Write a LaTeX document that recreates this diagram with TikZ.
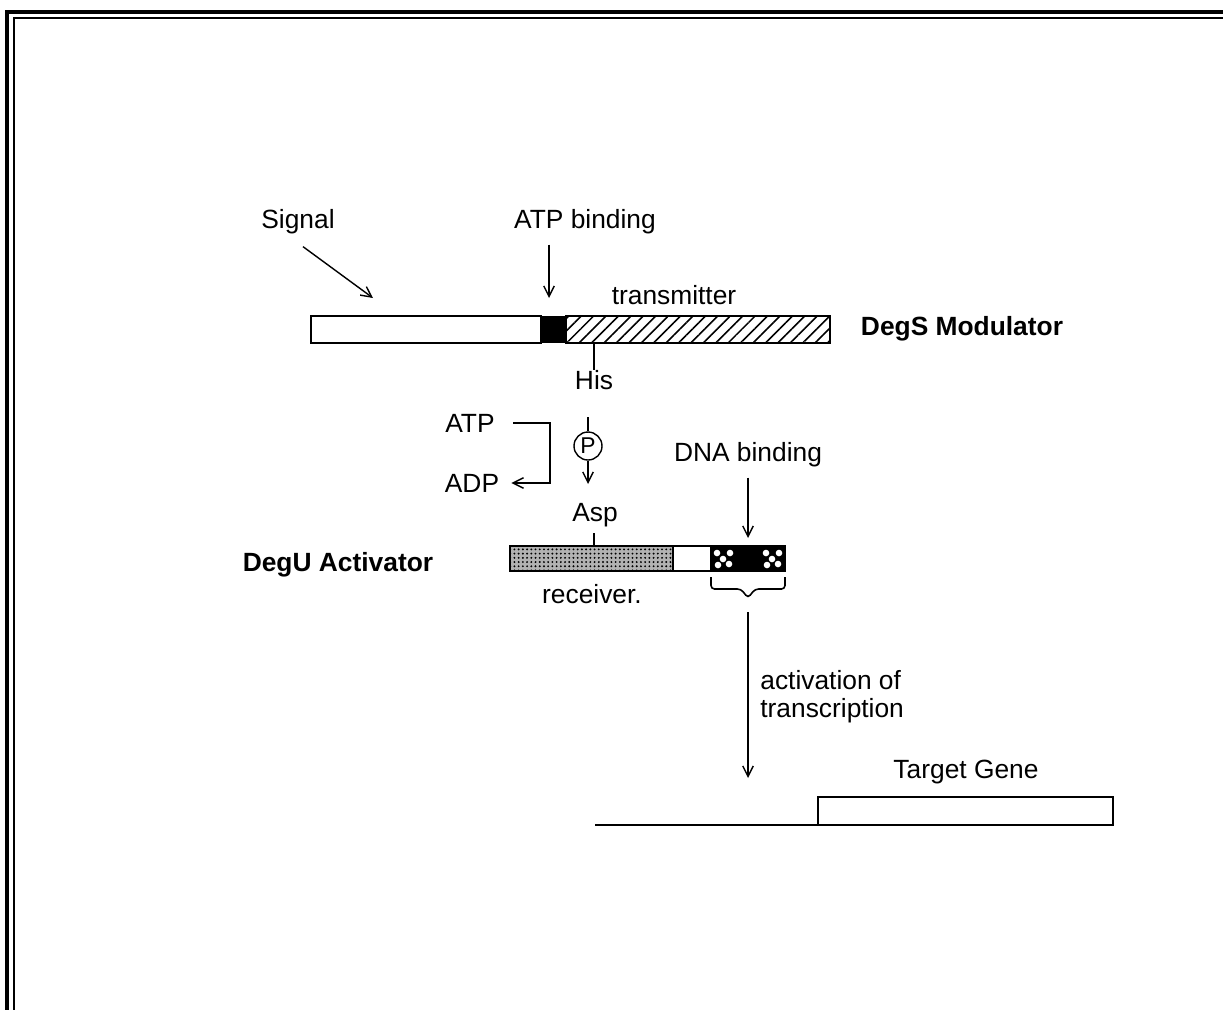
\documentclass[tikz,border=0pt]{standalone}
\usepackage{fontspec}
\setmainfont{Liberation Sans}
\usetikzlibrary{arrows.meta, calc, positioning, patterns, patterns.meta}

\tikzset{
  lbl/.style={font=\fontsize{15}{16}\selectfont, inner sep=0pt},
  protein/.style={font=\fontsize{15}{16}\selectfont\bfseries, inner sep=0pt},
  tip/.style={-{Straight Barb[length=6pt,width=6pt]}, line width=0.8pt},
  bar/.style={draw, line width=1pt},
}

\begin{document}
\begin{tikzpicture}[x=0.02cm, y=-0.02cm]
\useasboundingbox (0,0) rectangle (1223,1009);
\clip (0,0) rectangle (1223,1009);

% double frame, open to the right and bottom
\draw[line width=1.8pt] (7,12) rectangle (1260,1060);
\draw[line width=1.6pt] (14,18) rectangle (1260,1060);

% DegS modulator
\draw[bar] (311,316) rectangle (541,343);
\fill (541,316) rectangle (566,343);
\draw[bar, pattern={Lines[angle=45, distance=5pt, line width=0.9pt]}] (566,316) rectangle (830,343);
\coordinate (sigtip) at (373,298);
\coordinate (atptip) at (549,298);
\coordinate (his) at (594,343);

\node[lbl] (signal) at (298,222) {Signal};
\node[lbl] (atpb) at (585,222) {ATP binding};
\node[lbl] (trans) at (674,295) {transmitter};
\node[protein] (degs) at (962,329) {DegS Modulator};
\node[lbl] (hislbl) at (594,380) {His};

\draw[tip] (signal.south)++(5,12) -- (sigtip);
\draw[tip] (atpb.south)++(-36,10) -- (atptip);
\draw[line width=0.8pt] (his) -- (hislbl.north);

% phosphotransfer
\node[lbl] (atp) at (470,423) {ATP};
\node[lbl] (adp) at (472,483) {ADP};
\node[draw, circle, line width=0.8pt, inner sep=0pt, minimum size=0.56cm, font=\fontsize{13}{14}\selectfont] (p) at (588,446) {P};
\coordinate (ptop) at (588,417);
\coordinate (pbot) at (588,484);
\draw[tip] (atp.east)++(18,0) -- ++(37,0) |- ($(adp.east)+(12,0)$);
\draw[line width=0.8pt] (ptop) -- (p.north);
\draw[tip] (p.south) -- (pbot);

% DegU activator
\draw[bar, preaction={fill=black!30}, pattern={Dots[distance=2.4pt, radius=0.6pt]}] (510,546) rectangle (673,571);
\draw[bar] (673,546) rectangle (711,571);
\draw[bar, fill=black] (711,546) rectangle (785,571);
\foreach \x in {711,760}{
  \foreach \dx/\dy in {6/7, 19/7, 7/19, 18/18, 12/13}
    \fill[white] (\x+\dx,546+\dy) circle (3.3);
}
\coordinate (asp) at (594,546);
\coordinate (dnatip) at (748,538);
\coordinate (brtip) at (748,598);
\coordinate (gene) at (748,778);

\node[lbl] (dnab) at (748,455) {DNA binding};
\node[lbl] (asplbl) at (595,515) {Asp};
\node[protein] (degu) at (338,565) {DegU Activator};
\node[lbl] (recv) at (592,594) {receiver.};

\draw[line width=0.8pt] (asplbl.south)++(-1,6) -- (asp);
\draw[tip] (dnab.south)++(0,10) -- (dnatip);
% brace under the DNA binding part
\draw[line width=0.9pt, rounded corners=2] (711,577) -- (711,589) -- (741,589) -- (brtip) -- (755,589) -- (785,589) -- (785,577);
\draw[tip] ($(brtip)+(0,14)$) -- (gene);
\node[lbl, anchor=west, align=left] (act) at (760,697) {activation of\\transcription};

% target gene
\node[lbl] (target) at (966,772) {Target Gene};
\draw[line width=1pt] (595,825) -- (818,825);
\draw[bar] (818,797) rectangle (1113,825);

\end{tikzpicture}
\end{document}
